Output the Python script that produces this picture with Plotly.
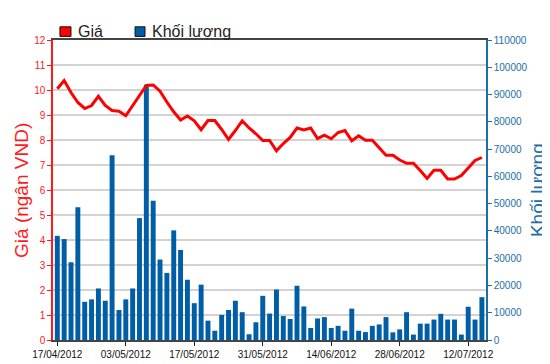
import plotly.graph_objects as go

dates = [
    "17/04/2012", "18/04/2012", "19/04/2012", "20/04/2012", "23/04/2012", "24/04/2012",
    "25/04/2012", "26/04/2012", "27/04/2012", "02/05/2012", "03/05/2012", "04/05/2012",
    "07/05/2012", "08/05/2012", "09/05/2012", "10/05/2012", "11/05/2012", "14/05/2012",
    "15/05/2012", "16/05/2012", "17/05/2012", "18/05/2012", "21/05/2012", "22/05/2012",
    "23/05/2012", "24/05/2012", "25/05/2012", "28/05/2012", "29/05/2012", "30/05/2012",
    "31/05/2012", "01/06/2012", "04/06/2012", "05/06/2012", "06/06/2012", "07/06/2012",
    "08/06/2012", "11/06/2012", "12/06/2012", "13/06/2012", "14/06/2012", "15/06/2012",
    "18/06/2012", "19/06/2012", "20/06/2012", "21/06/2012", "22/06/2012", "25/06/2012",
    "26/06/2012", "27/06/2012", "28/06/2012", "29/06/2012", "02/07/2012", "03/07/2012",
    "04/07/2012", "05/07/2012", "06/07/2012", "09/07/2012", "10/07/2012", "11/07/2012",
    "12/07/2012", "13/07/2012", "16/07/2012",
]

price = [
    10.05, 10.38, 9.9, 9.5, 9.26, 9.38, 9.75, 9.38, 9.18, 9.15, 8.97, 9.36, 9.75, 10.18,
    10.2, 9.95, 9.52, 9.13, 8.8, 8.96, 8.77, 8.41, 8.78, 8.78, 8.42, 8.02, 8.38, 8.77,
    8.48, 8.25, 7.98, 7.98, 7.57, 7.86, 8.1, 8.48, 8.4, 8.48, 8.06, 8.19, 8.05, 8.3, 8.38,
    7.97, 8.17, 7.99, 7.99, 7.69, 7.39, 7.39, 7.2, 7.07, 7.07, 6.78, 6.46, 6.79, 6.79,
    6.44, 6.44, 6.58, 6.9, 7.18, 7.3,
]

volume = [
    38200, 37000, 28500, 48700, 14000, 14900, 18900, 14400, 67700, 11000, 14900, 18900,
    44700, 93600, 51100, 29500, 24600, 40200, 33000, 22100, 13500, 20300, 7100, 3400,
    9200, 11000, 14400, 10200, 2100, 6500, 16200, 9700, 18500, 8800, 7700, 19900, 12300,
    4400, 7900, 8400, 4400, 5200, 3400, 11500, 3400, 2900, 5200, 5700, 8400, 2800, 3900,
    10200, 2000, 6000, 6000, 7500, 9600, 7500, 7500, 2000, 12200, 7500, 15700,
]

tick_labels = dates[::10]

RED = "#ff1a1a"
BLUE = "#005ea6"
BLUE_TXT = "#1b6ea6"
FONT = "Liberation Sans, Arial, sans-serif"

fig = go.Figure()
fig.add_trace(go.Bar(
    x=dates, y=volume, yaxis="y", name="Khối lượng",
    marker=dict(color=BLUE, line=dict(width=0)), showlegend=False,
))
fig.add_trace(go.Scatter(
    x=dates, y=price, yaxis="y2", name="Giá", mode="lines",
    line=dict(color="#ff0000", width=3), showlegend=False,
))

fig.update_layout(
    width=550, height=364,
    margin=dict(l=45, r=72, t=32, b=22),
    paper_bgcolor="white", plot_bgcolor="white",
    bargap=0.28,
    font=dict(family=FONT, size=10),
    xaxis=dict(
        type="category", range=[-0.63, 62.6],
        tickmode="array", tickvals=tick_labels, ticktext=tick_labels,
        ticks="outside", ticklen=4, tickcolor="#222", tickwidth=1,
        showline=True, linecolor="#444", linewidth=2, mirror=True,
        showgrid=False, tickfont=dict(color="#111", size=10),
    ),
    yaxis=dict(
        side="right", range=[0, 110000], dtick=10000, tickformat="d",
        showgrid=False, zeroline=False,
        showline=True, linecolor=BLUE_TXT, linewidth=1.5,
        ticks="outside", ticklen=4, tickcolor=BLUE_TXT,
        tickfont=dict(color=BLUE_TXT, size=10),
    ),
    yaxis2=dict(
        overlaying="y", side="left", range=[0, 12], dtick=1,
        showgrid=True, gridcolor="#d3d3d3", gridwidth=1.5, zeroline=False,
        showline=True, linecolor=RED, linewidth=1.5,
        ticks="outside", ticklen=4, tickcolor=RED,
        tickfont=dict(color=RED, size=10),
    ),
    shapes=[
        dict(type="rect", xref="paper", yref="paper",
             x0=0.016, x1=0.0415, y0=1.012, y1=1.044,
             fillcolor="#ff0000", line=dict(color="#111", width=1)),
        dict(type="rect", xref="paper", yref="paper",
             x0=0.1895, x1=0.2125, y0=1.012, y1=1.044,
             fillcolor=BLUE, line=dict(color="#111", width=1)),
    ],
    annotations=[
        dict(text="Giá", xref="paper", yref="paper", x=0.053, y=1.028,
             xanchor="left", yanchor="middle", showarrow=False,
             font=dict(size=16, color="#222")),
        dict(text="Khối lượng", xref="paper", yref="paper", x=0.224, y=1.028,
             xanchor="left", yanchor="middle", showarrow=False,
             font=dict(size=16, color="#222")),
        dict(text="Giá (ngân VND)", xref="paper", yref="paper", x=-0.074, y=0.5,
             xanchor="center", yanchor="middle", textangle=-90, showarrow=False,
             font=dict(size=19, color=RED)),
        dict(text="Khối lượng", xref="paper", yref="paper", x=1.118, y=0.5,
             xanchor="center", yanchor="middle", textangle=-90, showarrow=False,
             font=dict(size=19, color=BLUE_TXT)),
    ],
)

fig.write_html("out.html")
